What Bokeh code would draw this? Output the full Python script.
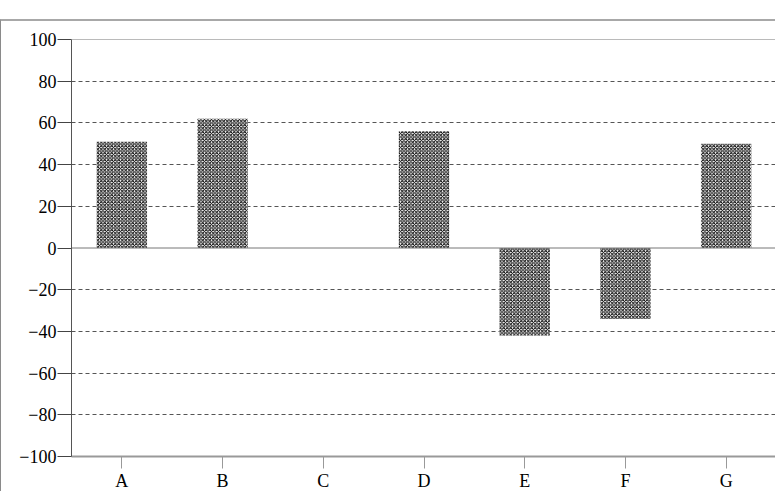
from bokeh.plotting import figure
from bokeh.models import FactorRange, Range1d, FixedTicker, Span
from bokeh.embed import file_html
from bokeh.resources import INLINE

categories = ["A", "B", "C", "D", "E", "F", "G"]
values = [51, 62, 0, 56, -42, -34, 50]
y_ticks = [-100, -80, -60, -40, -20, 0, 20, 40, 60, 80, 100]
y_tick_labels = ["\u2212100", "\u221280", "\u221260", "\u221240", "\u221220", "0",
                 "20", "40", "60", "80", "100"]
grid_ticks = [-80, -60, -40, -20, 20, 40, 60, 80]

FONT = "Liberation Serif"

p = figure(width=775, height=472, x_range=FactorRange(*categories, range_padding=0),
           y_range=Range1d(-100, 100), output_backend="svg", toolbar_location=None,
           min_border_left=70, min_border_top=18, min_border_right=0, min_border_bottom=0)
p.margin = (19, 0, 0, 0)
p.styles = {"border-top": "2px solid #a8a8a8", "border-left": "1px solid #8a8a8a"}
p.outline_line_color = None
p.background_fill_color = "white"
p.border_fill_color = "white"

p.vbar(x=categories, top=values, bottom=0, width=0.5, fill_color="white",
       line_color=None, hatch_pattern="diagonal_cross", hatch_color="black",
       hatch_scale=3.5, hatch_weight=1.0)

p.xgrid.grid_line_color = None
p.ygrid.ticker = FixedTicker(ticks=grid_ticks)
p.ygrid.grid_line_color = "#555555"
p.ygrid.grid_line_dash = "4 3"
p.ygrid.grid_line_width = 1

p.add_layout(Span(location=0, dimension="width", line_color="#777777", line_width=1))
p.add_layout(Span(location=100, dimension="width", line_color="#777777", line_width=1))

p.yaxis.ticker = FixedTicker(ticks=y_ticks)
p.yaxis.major_label_overrides = {t: l for t, l in zip(y_ticks, y_tick_labels)}
p.yaxis.major_tick_out = 14
p.yaxis.major_tick_in = 0
p.yaxis.minor_tick_line_color = None
p.yaxis.major_label_standoff = 1
p.yaxis.axis_line_color = "#555555"
p.yaxis.major_tick_line_color = "#444444"
p.yaxis.major_label_text_font = FONT
p.yaxis.major_label_text_font_size = "18px"
p.yaxis.major_label_text_color = "black"

p.xaxis.major_tick_out = 12
p.xaxis.major_tick_in = 0
p.xaxis.major_label_standoff = 2
p.xaxis.axis_line_color = "#999999"
p.xaxis.axis_line_width = 2
p.xaxis.major_tick_line_color = "#999999"
p.xaxis.major_label_text_font = FONT
p.xaxis.major_label_text_font_size = "18px"
p.xaxis.major_label_text_color = "black"

open("out.html", "w").write(file_html(p, INLINE))
